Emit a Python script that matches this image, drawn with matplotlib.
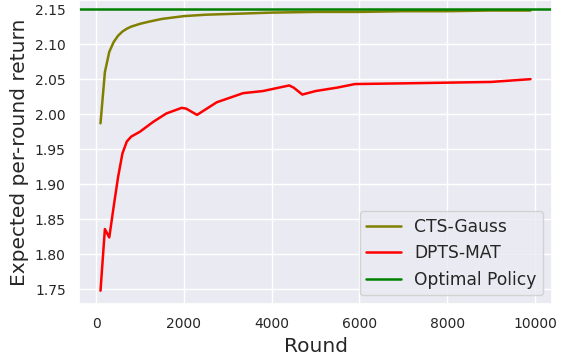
import numpy as np
import matplotlib.pyplot as plt
import seaborn as sns

# rounds and returns
cts_rounds = [100, 200, 300, 400, 500, 600, 700, 800, 900, 1000, 1200, 1500,
              2000, 2500, 3000, 4000, 5000, 6000, 7000, 8000, 9000, 9900]
cts_gauss = [1.987, 2.060, 2.089, 2.103, 2.112, 2.118, 2.122, 2.125, 2.127, 2.129,
             2.132, 2.136, 2.140, 2.142, 2.143, 2.145, 2.146, 2.146, 2.147, 2.147,
             2.148, 2.148]

dpts_rounds = [100, 200, 300, 400, 500, 600, 700, 800, 1000, 1300, 1600, 1950,
               2050, 2300, 2750, 3350, 3800, 4400, 4500, 4700, 5000, 5500, 5900,
               7000, 8000, 9000, 9900]
dpts_mat = [1.748, 1.836, 1.824, 1.868, 1.910, 1.944, 1.961, 1.968, 1.975, 1.989,
            2.001, 2.009, 2.008, 1.999, 2.017, 2.030, 2.033, 2.041, 2.038, 2.028,
            2.033, 2.038, 2.043, 2.044, 2.045, 2.046, 2.050]

optimal = 2.15

sns.set_theme(style="darkgrid")
plt.rcParams['font.family'] = ['DejaVu Sans']

fig = plt.figure(figsize=(5.63, 3.56), dpi=100)
ax = fig.add_axes([79 / 563, 52 / 356, 473 / 563, 304 / 356])

ax.plot(cts_rounds, cts_gauss, color='olive', lw=1.8, label='CTS-Gauss')
ax.plot(dpts_rounds, dpts_mat, color='red', lw=1.8, label='DPTS-MAT')
ax.axhline(optimal, color='green', lw=1.8, label='Optimal Policy')

ax.set_xlim(-390, 10390)
ax.set_ylim(1.729, 2.163)
ax.set_yticks([1.75, 1.80, 1.85, 1.90, 1.95, 2.00, 2.05, 2.10, 2.15])
ax.set_xticks([0, 2000, 4000, 6000, 8000, 10000])
ax.tick_params(labelsize=10)
ax.set_xlabel('Round', fontsize=14.5)
ax.set_ylabel('Expected per-round return', fontsize=14.5)
ax.legend(loc='lower right', fontsize=12.3)

fig.savefig('out.png', dpi=100)
